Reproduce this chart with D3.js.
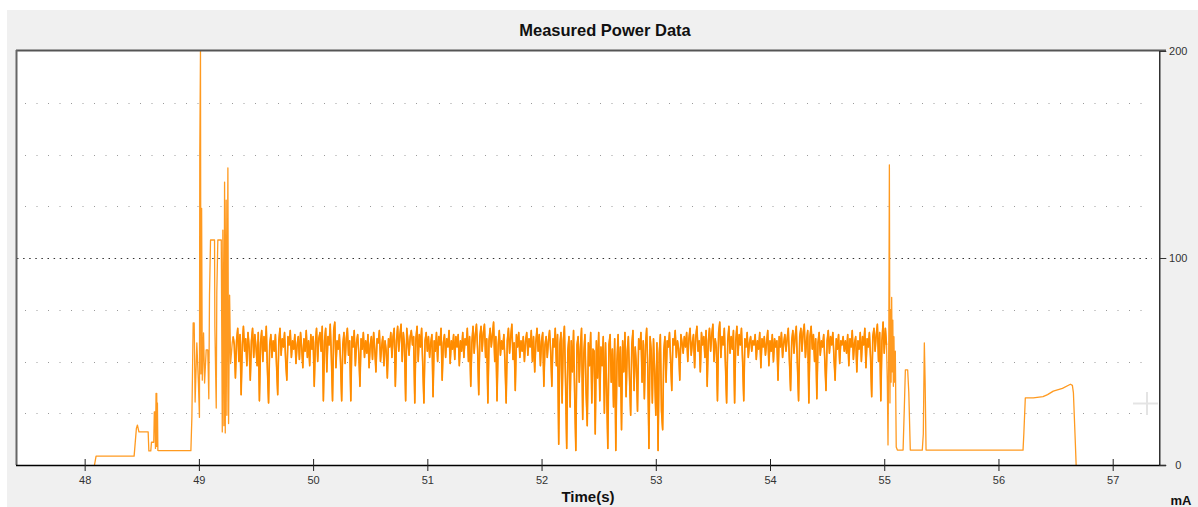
<!DOCTYPE html>
<html><head><meta charset="utf-8">
<script src="https://cdn.jsdelivr.net/npm/d3@7"></script>
<style>html,body{margin:0;padding:0;background:#fff;overflow:hidden}</style>
</head><body>
<svg id="c" width="1198" height="507"></svg>
<script>
// ---------- data ----------
const xTicks = [48, 49, 50, 51, 52, 53, 54, 55, 56, 57];
const yTicks = [0, 100, 200];
const gridMinor = [25, 50, 75, 125, 150, 175];
const gridMajor = [100];

// start-up segment (time s, current mA)
const earlyT = [48.086, 48.100, 48.433, 48.453, 48.462, 48.475, 48.556, 48.562, 48.579, 48.585, 48.605, 48.610, 48.616, 48.620, 48.625, 48.628, 48.631, 48.634, 48.637, 48.641, 48.646,
  48.930, 48.939, 48.950, 48.959, 48.967, 48.982, 48.996, 49.005, 49.008, 49.014, 49.018, 49.024, 49.030, 49.041, 49.050, 49.064, 49.078, 49.087, 49.093, 49.102, 49.137, 49.140, 49.152, 49.157, 49.166, 49.196, 49.199, 49.205, 49.210, 49.219, 49.225, 49.231, 49.239, 49.245, 49.254, 49.260, 49.269, 49.278, 49.292];
const earlyV = [0, 4.3, 4.3, 17.7, 19.3, 16, 16, 6.8, 6.8, 11, 11, 25.7, 25.7, 8, 34.6, 9, 34.6, 9, 30, 7, 6.9,
  6.9, 23.6, 68.6, 68.6, 30.4, 59, 39.6, 23, 150.7, 200, 44, 124, 41, 63.8, 39.6, 55.6, 55.6, 32, 82, 108.7, 108.7, 66.7, 27.5, 83.6, 108.7, 108.7, 78, 16, 113.5, 19, 136.7, 15.5, 128, 24, 143.5, 20, 82, 49, 59];

// steady noisy segment, sampled every 0.01 s from 49.30 s
const noiseStart = 49.30;
const noiseStep = 0.01;
const noiseV = [
  62, 58, 42, 60, 66, 50, 63, 34, 58, 67, 55, 61, 48, 64, 57, 41,
  60, 66, 52, 63, 57, 48, 64, 31, 59, 65, 50, 62, 55, 67, 46, 30, 58, 63, 52, 60,
  55, 63, 48, 34, 60, 66, 53, 61, 57, 64, 50, 41, 62, 58, 65, 52, 60, 56, 63, 49,
  58, 62, 51, 64, 57, 47, 61, 55, 65, 52, 60, 48, 63, 56, 62, 38, 59, 66, 50, 61,
  64, 55, 67, 31, 60, 66, 45, 62, 58, 68, 52, 31, 65, 69, 47, 60, 56, 63, 50, 31,
  58, 64, 49, 61, 66, 53, 60, 31, 62, 57, 65, 48, 59, 63, 54, 38, 61, 56, 64, 52,
  60, 54, 63, 47, 58, 62, 51, 64, 56, 45, 61, 59, 65, 50, 57, 62, 48, 60, 55, 42,
  61, 57, 64, 52, 62, 66, 38, 60, 67, 55, 63, 68, 50, 64, 58, 31, 66, 60, 53, 62,
  65, 58, 62, 30, 61, 67, 50, 63, 57, 66, 48, 30, 60, 64, 55, 62, 52, 59, 63, 33,
  60, 55, 64, 50, 62, 58, 66, 41, 59, 63, 52, 61, 57, 65, 49, 60, 56, 63, 51, 62,
  57, 63, 48, 60, 55, 64, 52, 61, 58, 66, 50, 62, 38, 59, 67, 54, 63, 68, 56, 34,
  62, 67, 55, 64, 68, 52, 61, 30, 60, 66, 57, 63, 69, 50, 62, 31, 58, 65, 53, 60,
  56, 63, 49, 30, 60, 66, 54, 62, 68, 51, 59, 36, 63, 57, 64, 52, 60, 55, 62, 50,
  60, 64, 53, 61, 57, 65, 50, 62, 45, 59, 66, 55, 63, 48, 60, 64, 38, 58, 62, 52,
  60, 65, 55, 38, 61, 57, 66, 48, 63, 10, 58, 64, 30, 60, 67, 40, 8, 55, 62, 28,
  60, 45, 65, 33, 7, 58, 62, 40, 57, 66, 22, 54, 63, 35, 19, 59, 48, 64, 30, 56,
  55, 15, 60, 42, 64, 31, 57, 48, 62, 25, 59, 36, 8, 58, 63, 40, 56, 28, 61, 7,
  50, 63, 38, 57, 17, 60, 45, 64, 33, 55, 62, 42, 24, 58, 65, 36, 57, 48, 26, 61,
  56, 64, 40, 60, 32, 58, 66, 47, 8, 62, 55, 30, 61, 45, 24, 59, 7, 54, 63, 26,
  17, 55, 62, 40, 60, 57, 64, 50, 36, 61, 58, 65, 52, 60, 56, 41, 63, 59, 54, 62,
  57, 64, 50, 61, 66, 53, 59, 63, 47, 62, 67, 55, 60, 45, 64, 58, 62, 52, 65, 38,
  60, 66, 55, 63, 68, 50, 61, 57, 31, 64, 69, 52, 62, 58, 66, 48, 30, 60, 67, 54,
  62, 56, 65, 30, 60, 67, 53, 63, 58, 66, 50, 31, 61, 57, 64, 52, 59, 62, 55, 60,
  58, 63, 51, 60, 56, 64, 47, 61, 57, 62, 53, 59, 65, 48, 60, 55, 63, 50, 61, 57,
  60, 41, 62, 57, 64, 52, 59, 63, 55, 61, 66, 50, 36, 60, 65, 54, 62, 67, 48, 31,
  62, 66, 55, 64, 68, 52, 60, 65, 30, 62, 67, 56, 63, 50, 61, 32, 59, 64, 53, 60,
  57, 63, 50, 36, 60, 65, 54, 62, 58, 64, 52, 41, 61, 56, 63, 49, 60, 58, 62, 55,
  60, 54, 63, 48, 61, 57, 65, 51, 59, 62, 45, 60, 56, 64, 50, 62, 58, 66, 47, 61,
  57, 64, 52, 33, 62, 66, 55, 63, 68, 50, 64, 31, 60, 69, 54, 66, 58
];

// shut-down segment
const tailT = [55.027, 55.033, 55.040, 55.045, 55.050, 55.055, 55.060, 55.065, 55.070, 55.075, 55.080, 55.085, 55.090, 55.097, 55.105, 55.115, 55.165, 55.176, 55.185, 55.205, 55.215, 55.228,
  55.333, 55.342, 55.351, 55.358, 55.366, 56.215, 56.222, 56.235, 56.305, 56.390, 56.430, 56.480, 56.560, 56.630, 56.647, 56.656, 56.673, 56.680];
const tailV = [40, 9.7, 62, 145, 30, 75, 40, 81, 45, 70, 38, 62, 40, 55, 8.7, 7.2, 7.2, 28, 46, 46, 35, 7.2,
  7.2, 15, 59, 40, 7.2, 7.2, 15, 32.4, 32.4, 33, 34, 35.7, 37, 39, 38.5, 35, 10.6, 0];

// ---------- build ----------
const earlyPts = earlyT.map((t, i) => [t, earlyV[i]]);
const noisePts = noiseV.map((v, i) => [noiseStart + i * noiseStep, v]);
const tailPts = tailT.map((t, i) => [t, tailV[i]]);
const allPts = earlyPts.concat(noisePts, tailPts);

const svg = d3.select('#c');
const L = 16, R = 1159.3, T = 51, B = 465;
const x = d3.scaleLinear().domain([47.399, 57.408]).range([L, R]);
const y = d3.scaleLinear().domain([0, 200]).range([B, T]);
const font = 'Arial, "Liberation Sans", sans-serif';

// backgrounds
svg.append('rect').attr('x', 7).attr('y', 10).attr('width', 1198 - 7).attr('height', 507 - 10).attr('fill', '#f0f0f0');
svg.append('rect').attr('x', L).attr('y', T).attr('width', R - L).attr('height', B - T).attr('fill', '#fff');

// title
svg.append('text').attr('x', 605).attr('y', 36).attr('text-anchor', 'middle')
  .attr('font-family', font).attr('font-weight', 'bold').attr('font-size', 16.5)
  .attr('fill', '#111').text('Measured Power Data');

// grid
const g = svg.append('g');
g.selectAll('line.minor').data(gridMinor).join('line').attr('class', 'minor')
  .attr('x1', 25).attr('x2', 1152).attr('y1', d => Math.round(y(d)) + 0.5).attr('y2', d => Math.round(y(d)) + 0.5)
  .attr('stroke', '#9a9a9a').attr('stroke-width', 1).attr('stroke-dasharray', '1,10.5');
g.selectAll('line.major').data(gridMajor).join('line').attr('class', 'major')
  .attr('x1', 17).attr('x2', 1152).attr('y1', d => Math.round(y(d)) + 0.5).attr('y2', d => Math.round(y(d)) + 0.5)
  .attr('stroke', '#333').attr('stroke-width', 1).attr('stroke-dasharray', '1.5,4.6');

// crosshair cursor
svg.append('line').attr('x1', 1133).attr('x2', 1158).attr('y1', 403.5).attr('y2', 403.5).attr('stroke', '#e4e4e4').attr('stroke-width', 2);
svg.append('line').attr('x1', 1147).attr('x2', 1147).attr('y1', 392).attr('y2', 415).attr('stroke', '#e4e4e4').attr('stroke-width', 2);

// data line
svg.append('clipPath').attr('id', 'clip').append('rect').attr('x', L).attr('y', T).attr('width', R - L).attr('height', B - T);
const line = d3.line().x(d => x(d[0])).y(d => y(d[1]));
svg.append('path').datum(allPts).attr('clip-path', 'url(#clip)')
  .attr('fill', 'none').attr('stroke', '#ff9a20').attr('stroke-width', 1.3).attr('stroke-linejoin', 'round')
  .attr('d', line);
// denser overlay for the busy steady-state part
svg.append('path').datum(noisePts).attr('clip-path', 'url(#clip)')
  .attr('fill', 'none').attr('stroke', '#ff8c00').attr('stroke-width', 1.6).attr('stroke-linejoin', 'round')
  .attr('d', line);

// frame
svg.append('line').attr('x1', L).attr('x2', 1166).attr('y1', 50.5).attr('y2', 50.5).attr('stroke', '#555').attr('stroke-width', 2);
svg.append('line').attr('x1', L + 0.5).attr('x2', L + 0.5).attr('y1', 50).attr('y2', B).attr('stroke', '#666').attr('stroke-width', 2);

// bottom axis
const xa = svg.append('g').attr('transform', `translate(0,${B})`)
  .call(d3.axisBottom(x).tickValues(xTicks).tickSizeInner(6).tickSizeOuter(0).tickFormat(d3.format('d')));
xa.select('.domain').attr('d', `M${L},0.5H1166`).attr('stroke', '#000').attr('stroke-width', 1.5);
xa.selectAll('.tick line').attr('y1', -6).attr('y2', 6).attr('stroke', '#222');
xa.selectAll('.tick text').attr('y', 11).attr('font-size', 11).attr('fill', '#333').attr('font-family', font);

// right axis
const ya = svg.append('g').attr('transform', `translate(${R},0)`)
  .call(d3.axisRight(y).tickValues(yTicks).tickSizeInner(7).tickSizeOuter(0));
ya.select('.domain').attr('d', `M0.5,${T}V${B}`).attr('stroke', '#000').attr('stroke-width', 1.2);
ya.selectAll('.tick line').attr('stroke', '#333');
ya.selectAll('.tick text').attr('x', 19).attr('text-anchor', 'middle').attr('font-size', 11).attr('fill', '#333').attr('font-family', font);

// axis titles
svg.append('text').attr('x', 588).attr('y', 502).attr('text-anchor', 'middle')
  .attr('font-family', font).attr('font-weight', 'bold').attr('font-size', 15)
  .attr('fill', '#111').text('Time(s)');
svg.append('text').attr('x', 1181).attr('y', 505).attr('text-anchor', 'middle')
  .attr('font-family', font).attr('font-weight', 'bold').attr('font-size', 13)
  .attr('fill', '#111').text('mA');
</script></body></html>
